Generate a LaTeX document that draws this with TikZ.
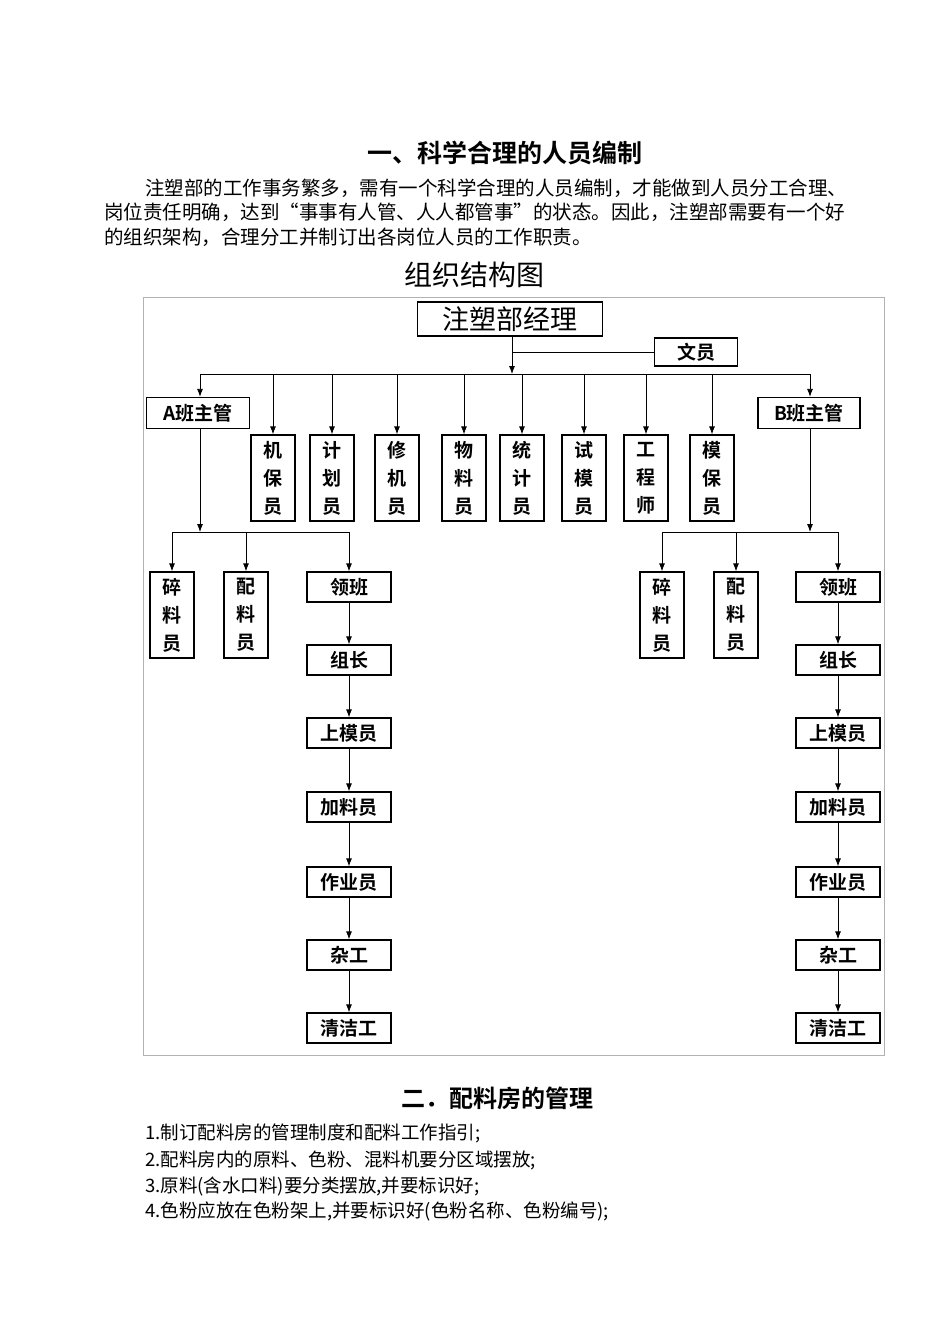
\documentclass[tikz,border=0pt]{standalone}
\usepackage{fontspec}
\newfontfamily\cjk{Noto Sans CJK SC}
\newfontfamily\cjkb{Noto Sans CJK SC Bold}
\usetikzlibrary{arrows.meta}
\begin{document}
\begin{tikzpicture}[x=1pt,y=-1pt,
  bx/.style={draw,line width=1.3pt,inner sep=0pt,font=\cjkb\fontsize{19}{22}\selectfont},
  vb/.style={bx,minimum width=44pt,minimum height=86pt,align=center,font=\cjkb\fontsize{19}{28}\selectfont},
  hb/.style={bx,minimum width=84pt,minimum height=30pt},
  ar/.style={-{Latex[length=8pt,width=6pt]},line width=0.8pt},
  ln/.style={line width=0.8pt},
  txt/.style={anchor=west,inner sep=0pt,font=\cjk\fontsize{19.5}{22}\selectfont}]
\useasboundingbox (0,0) rectangle (950,1344);
\fill[white] (0,0) rectangle (950,1344);
% texts
\node[inner sep=0pt,font=\cjkb\fontsize{25}{28}\selectfont] (h1) at (505,153) {一、科学合理的人员编制};
\node[txt] (p1) at (145,188) {注塑部的工作事务繁多，需有一个科学合理的人员编制，才能做到人员分工合理、};
\node[txt] (p2) at (104,212) {岗位责任明确，达到“事事有人管、人人都管事”的状态。因此，注塑部需要有一个好};
\node[txt] (p3) at (104,237) {的组织架构，合理分工并制订出各岗位人员的工作职责。};
\node[inner sep=0pt,font=\cjk\fontsize{28}{30}\selectfont] (t) at (474,275) {组织结构图};
\node[inner sep=0pt,font=\cjkb\fontsize{24}{26}\selectfont] (h2) at (497,1098) {二．配料房的管理};
\node[txt,font=\cjk\fontsize{18.5}{20}\selectfont] (l1) at (145,1133) {1.制订配料房的管理制度和配料工作指引;};
\node[txt,font=\cjk\fontsize{18.5}{20}\selectfont] (l2) at (145,1160) {2.配料房内的原料、色粉、混料机要分区域摆放;};
\node[txt,font=\cjk\fontsize{18.5}{20}\selectfont] (l3) at (145,1186) {3.原料(含水口料)要分类摆放,并要标识好;};
\node[txt,font=\cjk\fontsize{18.5}{20}\selectfont] (l4) at (145,1211) {4.色粉应放在色粉架上,并要标识好(色粉名称、色粉编号);};
% frame
\draw[gray!60,line width=0.8pt] (143,297) rectangle (884,1055);
% top
\node[bx,minimum width=185pt,minimum height=34pt,font=\cjk\fontsize{27}{30}\selectfont] (m) at (510,319) {注塑部经理};
\node[bx,minimum width=83pt,minimum height=28pt] (w) at (696,352) {文员};
\coordinate (bus) at (512,374);
\draw[ar] (m.south -| bus) -- (bus);
\draw[ln] (512,352) -- (w.west);
\node[hb,minimum width=103pt,minimum height=31pt] (A) at (198,413) {A班主管};
\node[hb,minimum width=102pt,minimum height=31pt] (B) at (809,413) {B班主管};
\draw[ln] (200,374) -- (810,374);
\draw[ar] (200,374) -- (A.north -| 200,0);
\draw[ar] (810,374) -- (B.north -| 810,0);
\foreach \n/\x/\t in {c1/273/机\\保\\员,c2/332/计\\划\\员,c3/397/修\\机\\员,c4/464/物\\料\\员,c5/522/统\\计\\员,c6/584/试\\模\\员,c7/646/工\\程\\师,c8/712/模\\保\\员}{
  \node[vb] (\n) at (\x,478) {\t};
  \draw[ar] (\x,374) -- (\n.north);
}
% sides
\foreach \S/\sx/\a/\b/\c in {A/200/172/246/349,B/810/662/736/838}{
  \coordinate (\S j) at (\sx,532);
  \draw[ar] (\S.south -| \sx,0) -- (\S j);
  \draw[ln] (\a,532) -- (\c,532);
  \node[vb] (\S s1) at (\a,615) {碎\\料\\员};
  \node[vb] (\S s2) at (\b,615) {配\\料\\员};
  \node[hb] (\S 1) at (\c,587) {领班};
  \node[hb] (\S 2) at (\c,660) {组长};
  \node[hb] (\S 3) at (\c,733) {上模员};
  \node[hb] (\S 4) at (\c,807) {加料员};
  \node[hb] (\S 5) at (\c,882) {作业员};
  \node[hb] (\S 6) at (\c,955) {杂工};
  \node[hb] (\S 7) at (\c,1028) {清洁工};
  \draw[ar] (\a,532) -- (\S s1.north);
  \draw[ar] (\b,532) -- (\S s2.north);
  \draw[ar] (\c,532) -- (\S 1.north);
  \draw[ar] (\S 1) -- (\S 2);
  \draw[ar] (\S 2) -- (\S 3);
  \draw[ar] (\S 3) -- (\S 4);
  \draw[ar] (\S 4) -- (\S 5);
  \draw[ar] (\S 5) -- (\S 6);
  \draw[ar] (\S 6) -- (\S 7);
}
\end{tikzpicture}
\end{document}
